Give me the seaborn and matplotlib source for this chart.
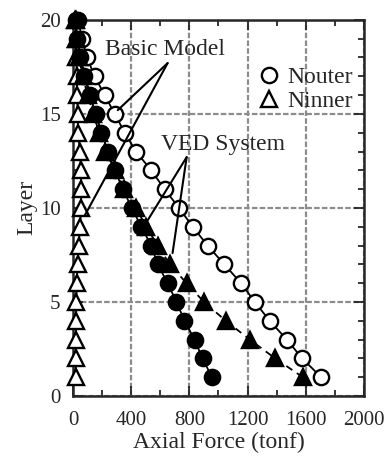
import matplotlib
matplotlib.use("Agg")
import matplotlib.pyplot as plt
from matplotlib.lines import Line2D
from matplotlib.ticker import MultipleLocator
import seaborn as sns
import pandas as pd

# Storey numbers and column axial forces (tonf)
layers = list(range(1, 21))
basic_outer = [1706, 1576, 1470, 1352, 1250, 1155, 1040, 925, 823, 728,
               629, 537, 432, 355, 286, 217, 148, 95, 60, 35]
basic_inner = [18, 18, 20, 20, 22, 25, 30, 38, 48, 55,
               56, 55, 45, 35, 30, 28, 25, 22, 20, 18]
ved_outer = [955, 890, 835, 766, 711, 650, 582, 537, 469, 403,
             342, 287, 240, 195, 155, 115, 75, 48, 28, 18]
ved_inner = [1580, 1390, 1215, 1050, 900, 780, 665, 582, 503, 432,
             352, 290, 222, 178, 140, 100, 65, 40, 22, 12]

x_ticks = [0, 400, 800, 1200, 1600, 2000]
y_ticks = [0, 5, 10, 15, 20]
legend_labels = ["Nouter", "Ninner"]

df = pd.DataFrame({
    "layer": layers,
    "basic_outer": basic_outer,
    "basic_inner": basic_inner,
    "ved_outer": ved_outer,
    "ved_inner": ved_inner,
})

sns.set_style("ticks")
plt.rcParams["font.family"] = ["Liberation Serif", "DejaVu Serif"]

fig = plt.figure(figsize=(3.85, 4.57), dpi=100)
ax = fig.add_axes([0.19, 0.1335, 0.755, 0.823])

ms = 11
common = dict(sort=False, estimator=None, ax=ax, clip_on=False,
              markersize=ms, markeredgecolor="black", color="black",
              markeredgewidth=1.7, zorder=3)

sns.lineplot(data=df, x="basic_outer", y="layer", marker="o",
             markerfacecolor="white", linewidth=1.3, **common)
sns.lineplot(data=df, x="basic_inner", y="layer", marker="^",
             markerfacecolor="white", linewidth=1.3, **common)
sns.lineplot(data=df, x="ved_outer", y="layer", marker="o",
             markerfacecolor="black", linewidth=1.3, **common)
sns.lineplot(data=df, x="ved_inner", y="layer", marker="^",
             markerfacecolor="black", linewidth=1.3,
             linestyle=(0, (4, 3)), **common)

ax.set_xlim(0, 2000)
ax.set_ylim(0, 20)
ax.set_xticks(x_ticks)
ax.set_yticks(y_ticks)
ax.xaxis.set_minor_locator(MultipleLocator(200))
ax.yaxis.set_minor_locator(MultipleLocator(1))
ax.tick_params(which="both", direction="in", top=True, right=True,
               width=1.3, labelsize=15)
ax.tick_params(which="major", length=7)
ax.tick_params(which="minor", length=4)
ax.tick_params(axis="x", pad=11)
ax.tick_params(axis="y", pad=9)
for s in ax.spines.values():
    s.set_linewidth(1.8)

ax.set_axisbelow(True)
ax.grid(True, which="major", color="0.55", linestyle=(0, (2.5, 1)),
        linewidth=1.6)

ax.set_xlabel("Axial Force (tonf)", fontsize=17, labelpad=1)
ax.set_ylabel("Layer", fontsize=17, labelpad=2)

# Callouts naming the two structural models
ax.text(630, 18.45, "Basic Model", fontsize=17, ha="center", va="center")
for end in [(307, 15.2), (80, 9.6)]:
    ax.plot([650, end[0]], [17.7, end[1]], color="black", lw=1.5, zorder=4)
ax.text(1034, 13.35, "VED System", fontsize=17, ha="center", va="center")
for end in [(506, 9.26), (684, 7.6)]:
    ax.plot([781, end[0]], [12.7, end[1]], color="black", lw=1.5, zorder=4)

handles = [
    Line2D([], [], linestyle="none", marker="o", markersize=ms,
           markerfacecolor="white", markeredgecolor="black", markeredgewidth=1.7),
    Line2D([], [], linestyle="none", marker="^", markersize=ms,
           markerfacecolor="white", markeredgecolor="black", markeredgewidth=1.7),
]
ax.legend(handles, legend_labels, loc="upper right", bbox_to_anchor=(1.02, 0.92),
          frameon=False, fontsize=17, handlelength=0.8, handletextpad=0.4,
          labelspacing=0.1, borderpad=0.2)

fig.savefig("out.png", dpi=100)
